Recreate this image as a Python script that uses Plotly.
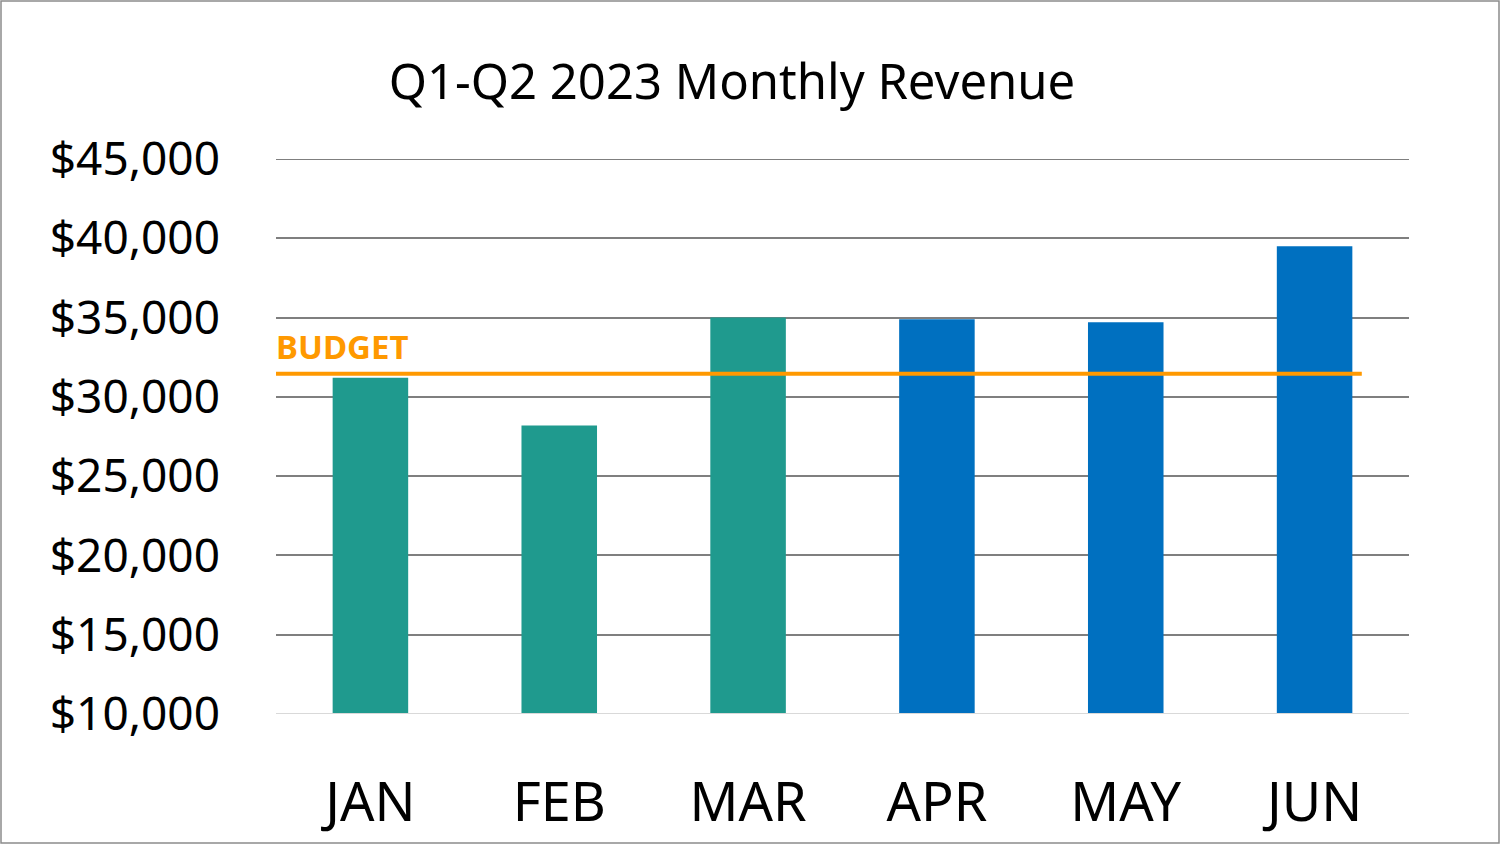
import plotly.graph_objects as go

months = ["JAN", "FEB", "MAR", "APR", "MAY", "JUN"]
revenue = [31200, 28200, 35000, 34900, 34700, 39500]
bar_colors = ["#1F9A8E", "#1F9A8E", "#1F9A8E", "#0070C0", "#0070C0", "#0070C0"]
budget = 31450
y_ticks = [10000, 15000, 20000, 25000, 30000, 35000, 40000, 45000]

font = "Noto Sans"
W, H = 1500, 844
L, R, T, B = 276, 91, 159, 130
pw, ph = W - L - R, H - T - B

fig = go.Figure()
fig.add_trace(go.Bar(x=list(range(len(months))), y=revenue, width=0.4,
                     marker=dict(color=bar_colors, line=dict(width=0)),
                     base=0, hoverinfo="y"))
fig.add_trace(go.Scatter(x=[-0.51, 5.25], y=[budget, budget], mode="lines",
                         line=dict(color="#FF9900", width=4), hoverinfo="skip",
                         cliponaxis=False))

fig.add_annotation(x=-0.002, y=budget, xref="paper", yref="y", text="<b>BUDGET</b>",
                   showarrow=False, xanchor="left", yanchor="bottom", yshift=3,
                   font=dict(family=font, size=33, color="#FF9900"))

# gridline at the top of the range
fig.add_shape(type="line", xref="paper", yref="y", x0=0, x1=1, y0=45000, y1=45000,
              line=dict(color="#7f7f7f", width=2), layer="below")
# baseline
fig.add_shape(type="line", xref="paper", yref="y", x0=0, x1=1, y0=10000, y1=10000,
              line=dict(color="#d9d9d9", width=2), layer="above")
# outer border
fig.add_shape(type="rect", xref="paper", yref="paper",
              x0=(1 - L) / pw, x1=(W - 1 - L) / pw,
              y0=(H - B - (H - 1)) / ph, y1=(H - B - 1) / ph,
              line=dict(color="#8c8c8c", width=1.5), layer="below")

fig.update_layout(
    width=W, height=H,
    margin=dict(l=L, r=R, t=T, b=B, autoexpand=False),
    paper_bgcolor="white", plot_bgcolor="white",
    showlegend=False,
    title=dict(text="Q1-Q2 2023 Monthly Revenue", xref="container", x=732 / W,
               xanchor="center", y=1 - 82 / H, yanchor="middle",
               font=dict(family=font, size=49, color="black")),
    xaxis=dict(range=[-0.5, 5.5], tickvals=list(range(len(months))), ticktext=months,
               showgrid=False, zeroline=False, showline=False, ticks="",
               ticklabelstandoff=52, automargin=False,
               tickfont=dict(family=font, size=54, color="black")),
    yaxis=dict(range=[10000, 45000], tickvals=y_ticks,
               ticktext=["${:,}".format(v) for v in y_ticks],
               showgrid=True, gridcolor="#7f7f7f", gridwidth=2,
               zeroline=False, showline=False, ticks="",
               ticklabelstandoff=55, automargin=False,
               tickfont=dict(family=font, size=46, color="black")),
)

fig.write_html("out.html", config={"displayModeBar": False},
               post_script="document.body.style.margin='0';")
